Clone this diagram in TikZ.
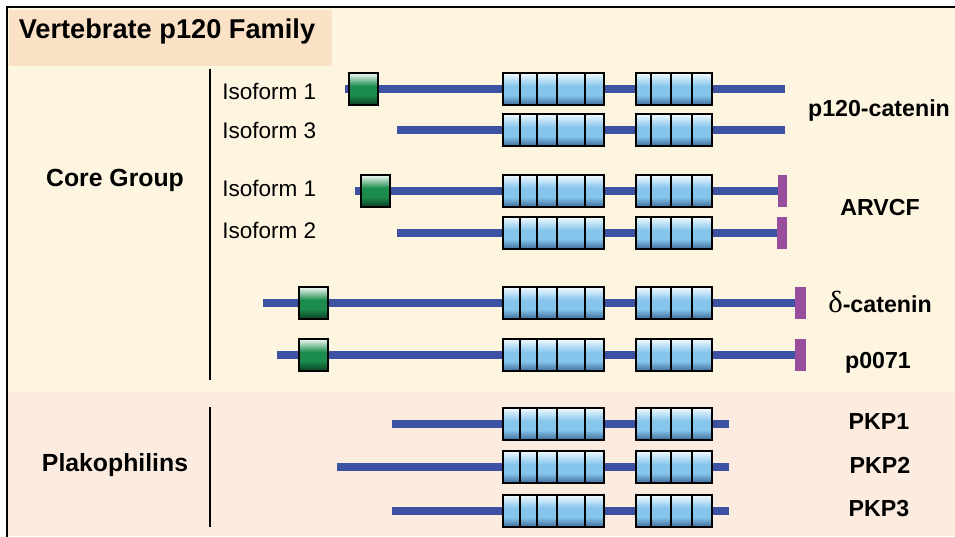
\documentclass[tikz,border=0pt]{standalone}
\usepackage{fontspec}
\setmainfont{Liberation Sans}
\newfontfamily\greekfont{Liberation Serif}

% palette
\definecolor{panelcore}{HTML}{FEF5E1}
\definecolor{panelpkp}{HTML}{FCEBDF}
\definecolor{titlefill}{HTML}{FBE1C5}
\definecolor{backbone}{HTML}{3D52A2}
\definecolor{capbar}{HTML}{984E9C}
\definecolor{armlow}{HTML}{3E6C9A}
\definecolor{armmid}{HTML}{86C6EC}
\definecolor{armhigh}{HTML}{F4FBFF}
\definecolor{headlow}{HTML}{0B3D21}
\definecolor{headmid}{HTML}{1B8C4D}
\definecolor{headhigh}{HTML}{F4FBF6}

\tikzset{
  chain/.style={draw=backbone, line width=6pt},
  boxedge/.style={draw=black, line width=2.1pt},
  capbox/.style={fill=capbar},
  divider/.style={draw=black, line width=1.5pt},
  titletext/.style={font=\fontsize{20.4}{24}\selectfont\bfseries, anchor=base},
  grouptext/.style={font=\fontsize{18.6}{22}\selectfont\bfseries, anchor=base},
  isotext/.style={font=\fontsize{16.9}{20}\selectfont, anchor=base west, inner sep=0pt},
  nametext/.style={font=\fontsize{17.4}{21}\selectfont\bfseries, anchor=base},
}

% glossy box: flat body, light top band, dark bottom band, black edge
% #1,#2 = left/right x, #3 = centre y, #4 = colour prefix (arm or head)
\newcommand\glossbox[4]{%
  \fill[#4mid] (#1,#3-16) rectangle (#2,#3+16);
  \shade[top color=#4high, bottom color=#4mid] (#1,#3-16) rectangle (#2,#3-3);
  \shade[top color=#4mid, bottom color=#4low] (#1,#3+6) rectangle (#2,#3+16);
  \path[boxedge] (#1,#3-16) rectangle (#2,#3+16);}

% the nine armadillo repeats, shared by every protein row
\newcommand\armrepeats[1]{%
  \foreach \xa/\xb in {503/520,520/537,537/557,557/585,585/604,636/651,651/671,671/692,692/712}
    {\glossbox{\xa}{\xb}{#1}{arm}}}
% N-terminal coiled-coil box
\newcommand\headdomain[2]{\glossbox{#1}{#1+29}{#2}{head}}
% C-terminal PDZ-binding motif
\newcommand\capdomain[3]{\path[capbox] (#1,#3-16) rectangle (#2,#3+16);}

\begin{document}
\begin{tikzpicture}[x=0.75pt, y=-0.75pt]
\useasboundingbox (0,0) rectangle (955,536);

% panels and frame
\fill[panelcore] (7,7) rectangle (955,392);
\fill[panelpkp] (7,392) rectangle (955,536);
\fill[titlefill] (9,10) rectangle (332,66);
\draw[line width=2pt, line cap=rect] (7,536) -- (7,7) -- (955,7);

\node[titletext] (title) at (167,38) {Vertebrate p120 Family};

% group labels and brackets
\node[grouptext] (core) at (115,186) {Core Group};
\node[grouptext] (pkp) at (115,471) {Plakophilins};
\coordinate (coreTop) at (210,69);
\coordinate (coreBot) at (210,380);
\coordinate (pkpTop) at (210,407);
\coordinate (pkpBot) at (210,527);
\draw[divider] (coreTop) -- (coreBot);
\draw[divider] (pkpTop) -- (pkpBot);

% isoform labels
\node[isotext] (iso1a) at (222,99) {Isoform 1};
\node[isotext] (iso3a) at (222,138) {Isoform 3};
\node[isotext] (iso1b) at (222,196) {Isoform 1};
\node[isotext] (iso2b) at (222,238) {Isoform 2};

% protein names
\node[nametext] (p120) at (879,116) {p120-catenin};
\node[nametext] (arvcf) at (880,215) {ARVCF};
\node[nametext] (dcat) at (880,312) {{\greekfont\mdseries\fontsize{23}{24}\selectfont δ}-catenin};
\node[nametext] (p0071) at (878,368) {p0071};
\node[nametext] (pkp1) at (879,429) {PKP1};
\node[nametext] (pkp2) at (880,473) {PKP2};
\node[nametext] (pkp3) at (879,516) {PKP3};

% p120-catenin isoform 1
\coordinate (r1s) at (345,89); \coordinate (r1e) at (785,89);
\draw[chain] (r1s) -- (r1e);
\armrepeats{89} \headdomain{349}{89}

% p120-catenin isoform 3
\coordinate (r2s) at (397,130); \coordinate (r2e) at (785,130);
\draw[chain] (r2s) -- (r2e);
\armrepeats{130}

% ARVCF isoform 1
\coordinate (r3s) at (355,191); \coordinate (r3e) at (782,191);
\draw[chain] (r3s) -- (r3e);
\armrepeats{191} \headdomain{361}{191} \capdomain{778}{787}{191}

% ARVCF isoform 2
\coordinate (r4s) at (397,233); \coordinate (r4e) at (782,233);
\draw[chain] (r4s) -- (r4e);
\armrepeats{233} \capdomain{777}{787}{233}

% delta-catenin
\coordinate (r5s) at (263,303); \coordinate (r5e) at (800,303);
\draw[chain] (r5s) -- (r5e);
\armrepeats{303} \headdomain{299}{303} \capdomain{795}{806}{303}

% p0071
\coordinate (r6s) at (277,355); \coordinate (r6e) at (800,355);
\draw[chain] (r6s) -- (r6e);
\armrepeats{355} \headdomain{299}{355} \capdomain{795}{806}{355}

% plakophilins 1-3
\coordinate (r7s) at (392,424); \coordinate (r7e) at (729,424);
\draw[chain] (r7s) -- (r7e);
\armrepeats{424}
\coordinate (r8s) at (337,467); \coordinate (r8e) at (729,467);
\draw[chain] (r8s) -- (r8e);
\armrepeats{467}
\coordinate (r9s) at (392,511); \coordinate (r9e) at (729,511);
\draw[chain] (r9s) -- (r9e);
\armrepeats{511}
\end{tikzpicture}
\end{document}
